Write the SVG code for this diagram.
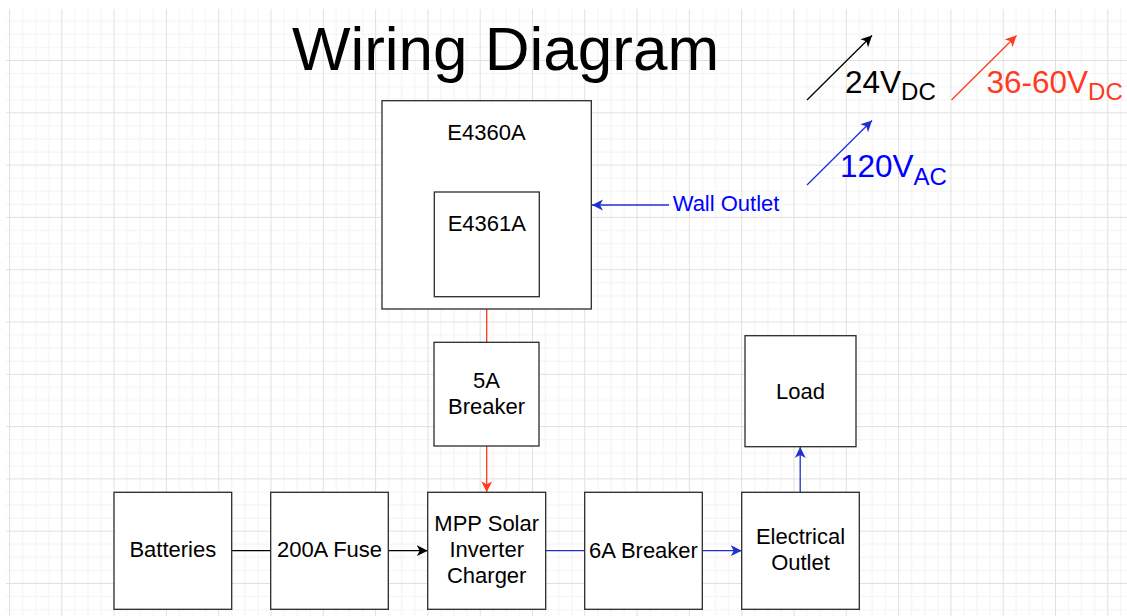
<svg xmlns="http://www.w3.org/2000/svg" width="1127" height="616" viewBox="0 0 1127 616">
  <style>
    .box { fill: #ffffff; stroke: #2b2b2b; stroke-width: 1.3; }
    .lbl { font-family: "Liberation Sans", Arial, sans-serif; font-size: 22px; fill: #000000; text-anchor: middle; }
    .lbl-start { text-anchor: start; fill: #0000ff; }
    .title { font-family: "Liberation Sans", Arial, sans-serif; font-size: 62px; fill: #000000; }
    .key { font-family: "Liberation Sans", Arial, sans-serif; font-size: 31.5px; }
    .sub { font-size: 24px; }
    .wire { fill: none; stroke-width: 1.3; }
    .dc24 { stroke: #000000; }
    .dc60 { stroke: #ff3a1f; }
    .ac { stroke: #1f2fd0; }
  </style>
  <defs>
    <pattern id="grid" x="9" y="7.7" width="52.3" height="52.3" patternUnits="userSpaceOnUse">
      <g stroke="#f2f2f2" stroke-width="1">
        <line x1="13.575" y1="0" x2="13.575" y2="52.3"/>
        <line x1="26.65" y1="0" x2="26.65" y2="52.3"/>
        <line x1="39.725" y1="0" x2="39.725" y2="52.3"/>
        <line x1="0" y1="13.575" x2="52.3" y2="13.575"/>
        <line x1="0" y1="26.65" x2="52.3" y2="26.65"/>
        <line x1="0" y1="39.725" x2="52.3" y2="39.725"/>
      </g>
      <g stroke="#e0e0e0" stroke-width="1">
        <line x1="0.5" y1="0" x2="0.5" y2="52.3"/>
        <line x1="0" y1="0.5" x2="52.3" y2="0.5"/>
      </g>
    </pattern>
    <marker id="arrBlack" markerUnits="userSpaceOnUse" markerWidth="12" markerHeight="12" refX="11" refY="5.5" orient="auto">
      <path d="M0,0 L11,5.5 L0,11 L3,5.5 Z" fill="#000000"/>
    </marker>
    <marker id="arrRed" markerUnits="userSpaceOnUse" markerWidth="12" markerHeight="12" refX="11" refY="5.5" orient="auto">
      <path d="M0,0 L11,5.5 L0,11 L3,5.5 Z" fill="#ff3a1f"/>
    </marker>
    <marker id="arrBlue" markerUnits="userSpaceOnUse" markerWidth="12" markerHeight="12" refX="11" refY="5.5" orient="auto">
      <path d="M0,0 L11,5.5 L0,11 L3,5.5 Z" fill="#1f2fd0"/>
    </marker>
  </defs>

  <!-- canvas -->
  <rect x="0" y="0" width="1127" height="616" fill="#ffffff"/>
  <rect x="6" y="9" width="1121" height="607" fill="url(#grid)"/>

  <!-- title -->
  <text class="title" x="505.5" y="70" text-anchor="middle">Wiring Diagram</text>

  <!-- legend -->
  <g id="legend">
    <line class="wire dc24" x1="807" y1="100" x2="872" y2="35.5" marker-end="url(#arrBlack)"/>
    <text class="key" x="845" y="92.7" fill="#000000">24V<tspan class="sub" dy="6.8">DC</tspan></text>
    <line class="wire dc60" x1="951.5" y1="100" x2="1016.5" y2="35.5" marker-end="url(#arrRed)"/>
    <text class="key" x="986.5" y="92.7" fill="#ff3a1f">36-60V<tspan class="sub" dy="6.8">DC</tspan></text>
    <line class="wire ac" x1="807" y1="185" x2="872" y2="120.5" marker-end="url(#arrBlue)"/>
    <text class="key" x="840" y="176.7" fill="#0000ff">120V<tspan class="sub" dy="8">AC</tspan></text>
  </g>

  <!-- connectors -->
  <g id="connectors">
    <line class="wire dc60" x1="486.7" y1="297" x2="486.7" y2="342.3"/>
    <line class="wire dc60" x1="486.7" y1="446" x2="486.7" y2="492.3" marker-end="url(#arrRed)"/>
    <line class="wire ac" x1="669" y1="205" x2="592" y2="205" marker-end="url(#arrBlue)"/>
    <line class="wire dc24" x1="231.7" y1="550.7" x2="270.7" y2="550.7"/>
    <line class="wire dc24" x1="388.3" y1="550.7" x2="427.7" y2="550.7" marker-end="url(#arrBlack)"/>
    <line class="wire ac" x1="545.7" y1="550.7" x2="584.7" y2="550.7"/>
    <line class="wire ac" x1="702.3" y1="550.7" x2="741.7" y2="550.7" marker-end="url(#arrBlue)"/>
    <line class="wire ac" x1="800.2" y1="492.3" x2="800.2" y2="447" marker-end="url(#arrBlue)"/>
  </g>

  <!-- nodes -->
  <g id="e4360a">
    <rect class="box" x="382" y="100.7" width="209.3" height="208.3"/>
    <text class="lbl" x="486.5" y="140">E4360A</text>
  </g>
  <g id="e4361a">
    <rect class="box" x="434.3" y="192" width="105" height="104.7"/>
    <text class="lbl" x="486.8" y="231">E4361A</text>
  </g>
  <g id="wall-outlet">
    <text class="lbl lbl-start" x="672.7" y="210.7">Wall Outlet</text>
  </g>
  <g id="breaker-5a">
    <rect class="box" x="434" y="342.3" width="105" height="103.7"/>
    <text class="lbl" x="486.5" y="388.3">5A</text>
    <text class="lbl" x="486.5" y="413.5">Breaker</text>
  </g>
  <g id="load">
    <rect class="box" x="745" y="335.7" width="111" height="111"/>
    <text class="lbl" x="800.5" y="399">Load</text>
  </g>
  <g id="batteries">
    <rect class="box" x="114" y="492.3" width="117.7" height="117"/>
    <text class="lbl" x="172.8" y="557.3">Batteries</text>
  </g>
  <g id="fuse-200a">
    <rect class="box" x="270.7" y="492.3" width="117.6" height="117"/>
    <text class="lbl" x="329.5" y="557.3">200A Fuse</text>
  </g>
  <g id="mpp-inverter">
    <rect class="box" x="427.7" y="492.3" width="118" height="117"/>
    <text class="lbl" x="486.7" y="531">MPP Solar</text>
    <text class="lbl" x="486.7" y="557.3">Inverter</text>
    <text class="lbl" x="486.7" y="583">Charger</text>
  </g>
  <g id="breaker-6a">
    <rect class="box" x="584.7" y="492.3" width="117.6" height="117"/>
    <text class="lbl" x="643.5" y="557.7">6A Breaker</text>
  </g>
  <g id="electrical-outlet">
    <rect class="box" x="741.7" y="492.3" width="117.6" height="117"/>
    <text class="lbl" x="800.5" y="544.3">Electrical</text>
    <text class="lbl" x="800.5" y="570">Outlet</text>
  </g>
</svg>
